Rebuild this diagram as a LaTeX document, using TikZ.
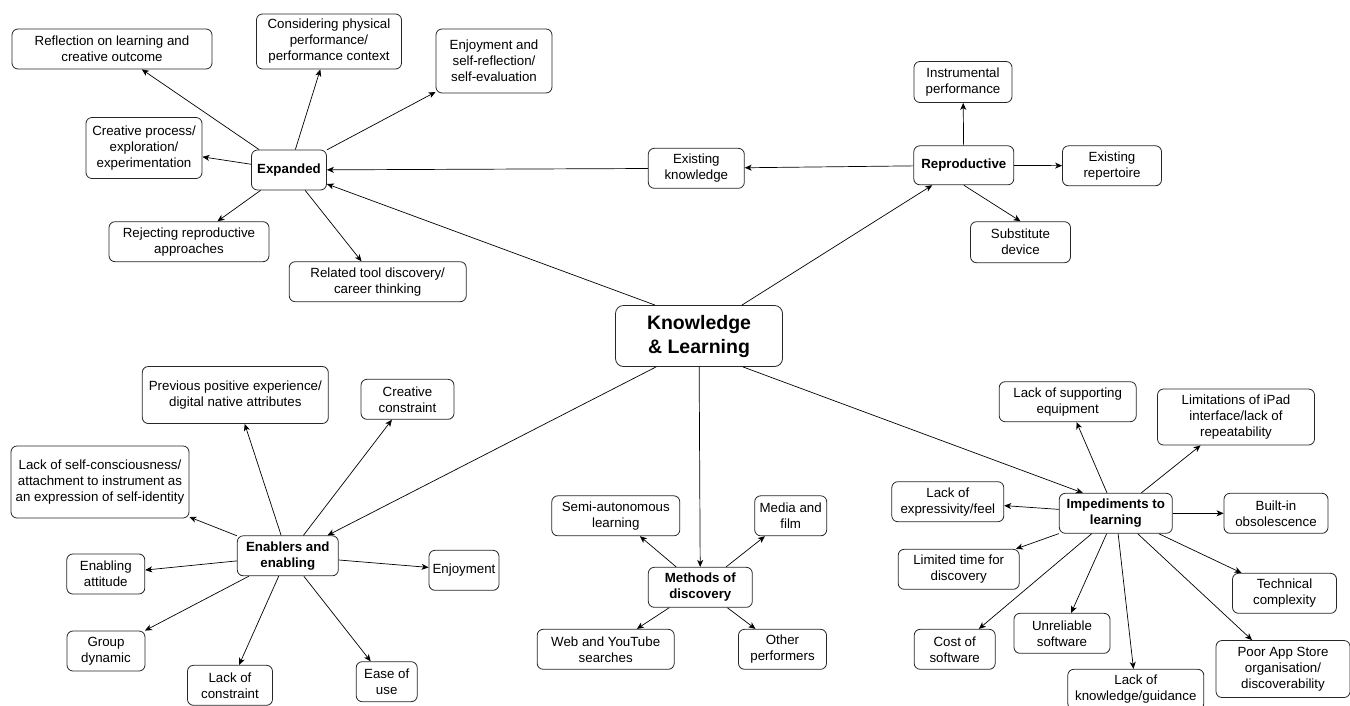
\documentclass[tikz,border=0pt]{standalone}
\usepackage{fontspec}
\setmainfont{Liberation Sans}
\usetikzlibrary{arrows.meta}

\begin{document}
\begin{tikzpicture}[x=1pt, y=-1pt, >={Stealth[length=7pt, width=6pt, inset=2pt]},
  box/.style={rectangle, rounded corners=6pt, draw=black!85, line width=0.8pt, align=center, inner sep=2pt, minimum height=40pt, font=\fontsize{13.3}{16}\selectfont},
  subhub/.style={box, font=\fontsize{13.3}{16}\selectfont\bfseries},
  mainhub/.style={box, rounded corners=8pt, font=\fontsize{19.5}{24}\selectfont\bfseries},
  arrow/.style={->, line width=0.7pt}]

  \useasboundingbox (0,0) rectangle (1350,705);

  \node [mainhub, minimum width=167pt, minimum height=61pt] (kl) at (699,336) {Knowledge\\ \& Learning};

  % expanded
  \node [subhub, minimum width=75pt] (exp) at (289,170) {Expanded};
  \node [box, minimum width=200pt] (reflect) at (112,49) {Reflection on learning and\\ creative outcome};
  \node [box, minimum width=145pt, minimum height=55pt] (physical) at (329,41.5) {Considering physical\\ performance/\\ performance context};
  \node [box, minimum width=116pt, minimum height=64pt] (selfeval) at (494,61) {Enjoyment and\\ self-reflection/\\ self-evaluation};
  \node [box, minimum width=116pt, minimum height=61pt] (process) at (144,148) {Creative process/\\ exploration/\\ experimentation};
  \node [box, minimum width=160pt] (rejecting) at (189,241.7) {Rejecting reproductive\\ approaches};
  \node [box, minimum width=177pt] (career) at (377.7,281.7) {Related tool discovery/\\ career thinking};
  \node [box, minimum width=96pt] (knowl) at (696.3,168.3) {Existing\\ knowledge};

  % reproductive
  \node [subhub, minimum width=100pt, minimum height=39pt] (repro) at (963.8,165.3) {Reproductive};
  \node [box, minimum width=98pt, minimum height=41pt] (instr) at (963,82) {Instrumental\\ performance};
  \node [box, minimum width=99pt] (reper) at (1112,165.8) {Existing\\ repertoire};
  \node [box, minimum width=100pt, minimum height=41pt] (subst) at (1020.5,242.2) {Substitute\\ device};

  % enablers
  \node [subhub, minimum width=101pt] (enab) at (287.8,555.8) {Enablers and\\ enabling};
  \node [box, minimum width=186pt, minimum height=57pt] (previous) at (235.3,395) {Previous positive experience/\\ digital native attributes};
  \node [box, minimum width=93pt] (cconstr) at (407.5,399.3) {Creative\\ constraint};
  \node [box, minimum width=178pt, minimum height=72pt] (selfid) at (100,482) {Lack of self-consciousness/\\ attachment to instrument as\\ an expression of self-identity};
  \node [box, minimum width=78pt] (attitude) at (105.8,574) {Enabling\\ attitude};
  \node [box, minimum width=70pt] (enjoy) at (464,570.3) {Enjoyment};
  \node [box, minimum width=78pt] (group) at (106,651) {Group\\ dynamic};
  \node [box, minimum width=85pt] (lconstr) at (230,685.3) {Lack of\\ constraint};
  \node [box, minimum width=61pt] (ease) at (386.7,681.7) {Ease of\\ use};

  % methods
  \node [subhub, minimum width=104pt] (meth) at (700.3,587.3) {Methods of\\ discovery};
  \node [box, minimum width=128pt] (semi) at (615.8,515.8) {Semi-autonomous\\ learning};
  \node [box, minimum width=72pt] (media) at (790.7,515.8) {Media and\\ film};
  \node [box, minimum width=137pt] (web) at (605.7,649.3) {Web and YouTube\\ searches};
  \node [box, minimum width=88pt] (others) at (782.5,649.3) {Other\\ performers};

  % impediments
  \node [subhub, minimum width=113pt] (imp) at (1115.8,513.3) {Impediments to\\ learning};
  \node [box, minimum width=137pt] (equip) at (1067.7,401.7) {Lack of supporting\\ equipment};
  \node [box, minimum width=157pt, minimum height=56pt] (ipad) at (1236,417) {Limitations of iPad\\ interface/lack of\\ repeatability};
  \node [box, minimum width=112pt] (feel) at (947.8,501.7) {Lack of\\ expressivity/feel};
  \node [box, minimum width=104pt] (obsol) at (1276,513.3) {Built-in\\ obsolescence};
  \node [box, minimum width=121pt] (time) at (958.7,569.3) {Limited time for\\ discovery};
  \node [box, minimum width=104pt] (tech) at (1284.5,593.3) {Technical\\ complexity};
  \node [box, minimum width=81pt] (cost) at (954.7,649.3) {Cost of\\ software};
  \node [box, minimum width=96pt] (unrel) at (1062,633.3) {Unreliable\\ software};
  \node [box, minimum width=136pt] (guide) at (1135.8,689.3) {Lack of\\ knowledge/guidance};
  \node [box, minimum width=134pt, minimum height=57pt] (appstore) at (1283,669) {Poor App Store\\ organisation/\\ discoverability};

  \draw [arrow] ([xshift=40pt]kl.north west) -- (exp);
  \draw [arrow] ([xshift=-41pt]kl.north east) -- (repro);
  \draw [arrow] ([xshift=41pt]kl.south west) -- (enab);
  \draw [arrow] (kl) -- (meth);
  \draw [arrow] ([xshift=-40pt]kl.south east) -- ([xshift=-33pt]imp.north);

  \draw [arrow] (exp) -- (reflect);
  \draw [arrow] (exp) -- (physical);
  \draw [arrow] (exp) -- (selfeval);
  \draw [arrow] (exp) -- (process);
  \draw [arrow] (exp) -- (rejecting);
  \draw [arrow] (exp) -- (career);
  \draw [arrow] (knowl) -- (exp);

  \draw [arrow] (repro) -- (knowl);
  \draw [arrow] (repro) -- (instr);
  \draw [arrow] (repro) -- (reper);
  \draw [arrow] (repro.south) -- (subst.north);

  \draw [arrow] (enab) -- (previous);
  \draw [arrow] (enab) -- (cconstr);
  \draw [arrow] (enab) -- (selfid);
  \draw [arrow] (enab) -- (attitude);
  \draw [arrow] (enab) -- (enjoy);
  \draw [arrow] (enab) -- (group);
  \draw [arrow] (enab) -- (lconstr);
  \draw [arrow] (enab) -- (ease);

  \draw [arrow] (meth) -- (semi);
  \draw [arrow] (meth) -- (media);
  \draw [arrow] (meth) -- (web);
  \draw [arrow] (meth) -- (others);

  \draw [arrow] (imp) -- (equip);
  \draw [arrow] (imp) -- (ipad);
  \draw [arrow] (imp) -- (feel);
  \draw [arrow] (imp) -- (obsol);
  \draw [arrow] (imp) -- (time);
  \draw [arrow] (imp) -- (tech);
  \draw [arrow] (imp) -- (cost);
  \draw [arrow] (imp) -- (unrel);
  \draw [arrow] (imp) -- (guide);
  \draw [arrow] (imp) -- (appstore);
\end{tikzpicture}
\end{document}
